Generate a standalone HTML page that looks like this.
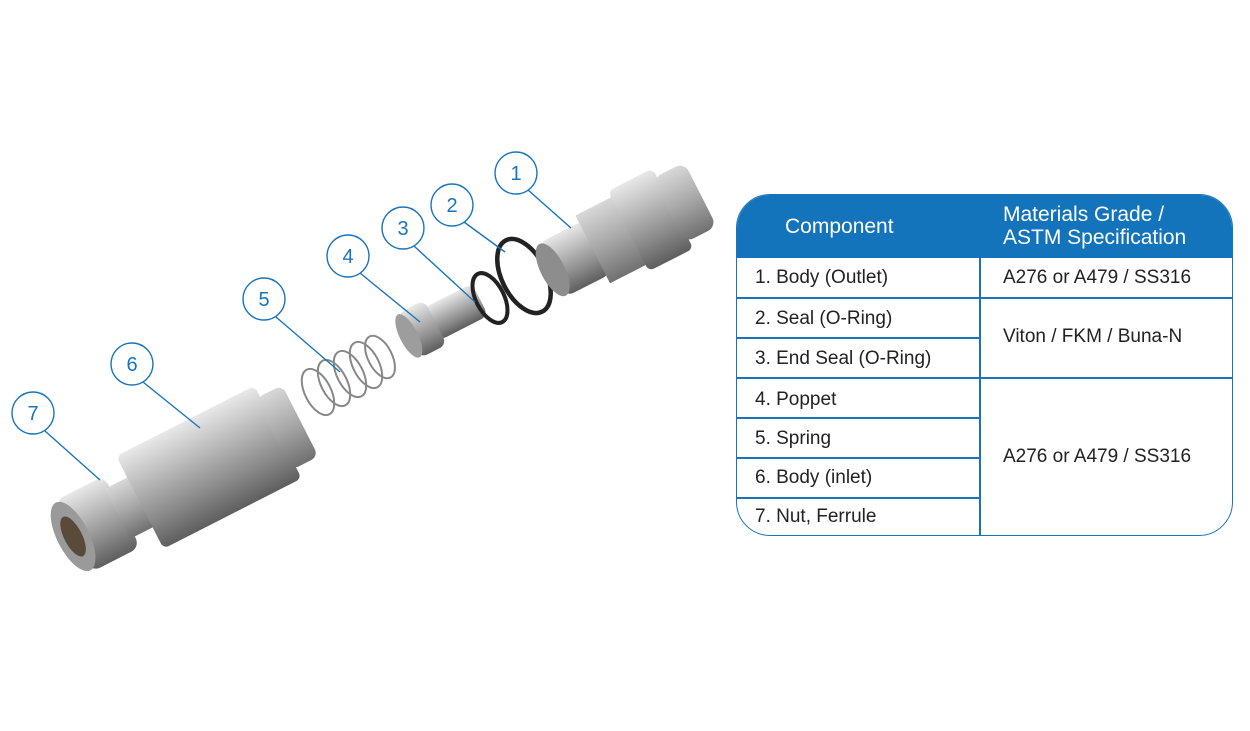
<!DOCTYPE html>
<html><head><meta charset="utf-8"><style>
body{margin:0;width:1250px;height:731px;background:#fff;position:relative;overflow:hidden;font-family:"Liberation Sans",sans-serif}
svg{position:absolute;left:0;top:0}
.tbl{position:absolute;left:736px;top:194px;width:497px;height:342px;border:1.5px solid #1a74bb;border-radius:34px;overflow:hidden;box-sizing:border-box}
.h{position:absolute;left:0;top:0;width:100%;height:63px;background:#1474bb;color:#fff;font-size:21px}
.c{position:absolute;font-size:19px;color:#222}
.hl{position:absolute;height:1.5px;background:#1a74bb;left:0}
</style></head><body>
<svg width="1250" height="731">
<defs>
<linearGradient id="m" x1="0" y1="0" x2="0" y2="1"><stop offset="0" stop-color="#e8e8e8"/><stop offset=".35" stop-color="#b9b9b9"/><stop offset=".7" stop-color="#8a8a8a"/><stop offset="1" stop-color="#5e5e5e"/></linearGradient>
<linearGradient id="m2" x1="0" y1="0" x2="0" y2="1"><stop offset="0" stop-color="#d8d8d8"/><stop offset=".5" stop-color="#a8a8a8"/><stop offset="1" stop-color="#707070"/></linearGradient>
</defs>
<!-- body inlet -->
<g transform="translate(180,482) rotate(-27)">
<rect x="-120" y="-40" width="55" height="80" rx="10" fill="url(#m)"/>
<ellipse cx="-120" cy="0" rx="16" ry="38" fill="#9a9a9a"/>
<ellipse cx="-120" cy="0" rx="9" ry="22" fill="#5a4a3a"/>
<rect x="-70" y="-28" width="28" height="56" fill="url(#m2)"/>
<rect x="-45" y="-52" width="155" height="104" rx="6" fill="url(#m)"/>
<rect x="105" y="-40" width="30" height="80" rx="8" fill="url(#m2)"/>
</g>
<!-- spring -->
<g stroke="#888" stroke-width="2" fill="none">
<ellipse cx="318" cy="392" rx="13" ry="25" transform="rotate(-27 318 392)"/>
<ellipse cx="334" cy="383" rx="13" ry="25" transform="rotate(-27 334 383)"/>
<ellipse cx="350" cy="374" rx="13" ry="25" transform="rotate(-27 350 374)"/>
<ellipse cx="366" cy="365" rx="13" ry="25" transform="rotate(-27 366 365)"/>
<ellipse cx="380" cy="357" rx="12" ry="23" transform="rotate(-27 380 357)"/>
</g>
<!-- poppet -->
<g transform="translate(440,320) rotate(-27)">
<rect x="-10" y="-18" width="55" height="36" rx="8" fill="url(#m)"/>
<rect x="-35" y="-25" width="30" height="50" rx="8" fill="url(#m)"/>
<ellipse cx="-35" cy="0" rx="9" ry="24" fill="#9d9d9d"/>
</g>
<!-- o-rings -->
<ellipse cx="490" cy="298" rx="14" ry="27" transform="rotate(-27 490 298)" fill="none" stroke="#222" stroke-width="4"/>
<ellipse cx="524" cy="276" rx="22" ry="40" transform="rotate(-27 524 276)" fill="none" stroke="#222" stroke-width="4.5"/>
<!-- body outlet -->
<g transform="translate(615,238) rotate(-27)">
<rect x="-70" y="-30" width="50" height="60" rx="8" fill="url(#m)"/>
<ellipse cx="-70" cy="0" rx="12" ry="29" fill="#8d8d8d"/>
<rect x="-25" y="-38" width="45" height="76" fill="url(#m2)"/>
<rect x="15" y="-45" width="50" height="90" rx="6" fill="url(#m)"/>
<rect x="60" y="-36" width="36" height="72" rx="10" fill="url(#m2)"/>
</g>
<!-- callouts -->
<g fill="#fff" stroke="#1a74bb" stroke-width="1.4">
<line x1="528" y1="190" x2="571" y2="228"/>
<line x1="464" y1="222" x2="505" y2="252"/>
<line x1="414" y1="246" x2="475" y2="302"/>
<line x1="360" y1="273" x2="420" y2="322"/>
<line x1="276" y1="317" x2="340" y2="372"/>
<line x1="143" y1="382" x2="200" y2="428"/>
<line x1="45" y1="431" x2="100" y2="480"/>
<circle cx="516" cy="173" r="21"/><circle cx="452" cy="205" r="21"/><circle cx="403" cy="228" r="21"/><circle cx="348" cy="256" r="21"/><circle cx="264" cy="299" r="21"/><circle cx="132" cy="364" r="21"/><circle cx="33" cy="413" r="21"/>
</g>
<g fill="#1a74bb" font-size="20" text-anchor="middle" font-family="Liberation Sans,sans-serif">
<text x="516" y="180">1</text><text x="452" y="212">2</text><text x="403" y="235">3</text><text x="348" y="263">4</text><text x="264" y="306">5</text><text x="132" y="371">6</text><text x="33" y="420">7</text>
</g>
</svg>
<div class="tbl">
<div class="h"><span style="position:absolute;left:48px;top:20px">Component</span><span style="position:absolute;left:266px;top:8px;line-height:23px">Materials Grade /<br>ASTM Specification</span></div>
<div class="hl" style="top:102px;width:100%"></div>
<div class="hl" style="top:142px;width:243px"></div>
<div class="hl" style="top:182px;width:100%"></div>
<div class="hl" style="top:222px;width:243px"></div>
<div class="hl" style="top:262px;width:243px"></div>
<div class="hl" style="top:302px;width:243px"></div>
<div style="position:absolute;left:242px;top:63px;width:1.5px;height:280px;background:#1a74bb"></div>
<div class="c" style="left:18px;top:72px">1. Body (Outlet)</div>
<div class="c" style="left:18px;top:113px">2. Seal (O-Ring)</div>
<div class="c" style="left:18px;top:153px">3. End Seal (O-Ring)</div>
<div class="c" style="left:18px;top:194px">4. Poppet</div>
<div class="c" style="left:18px;top:233px">5. Spring</div>
<div class="c" style="left:18px;top:272px">6. Body (inlet)</div>
<div class="c" style="left:18px;top:311px">7. Nut, Ferrule</div>
<div class="c" style="left:266px;top:72px">A276 or A479 / SS316</div>
<div class="c" style="left:266px;top:131px">Viton / FKM / Buna-N</div>
<div class="c" style="left:266px;top:251px">A276 or A479 / SS316</div>
</div>
</body></html>
